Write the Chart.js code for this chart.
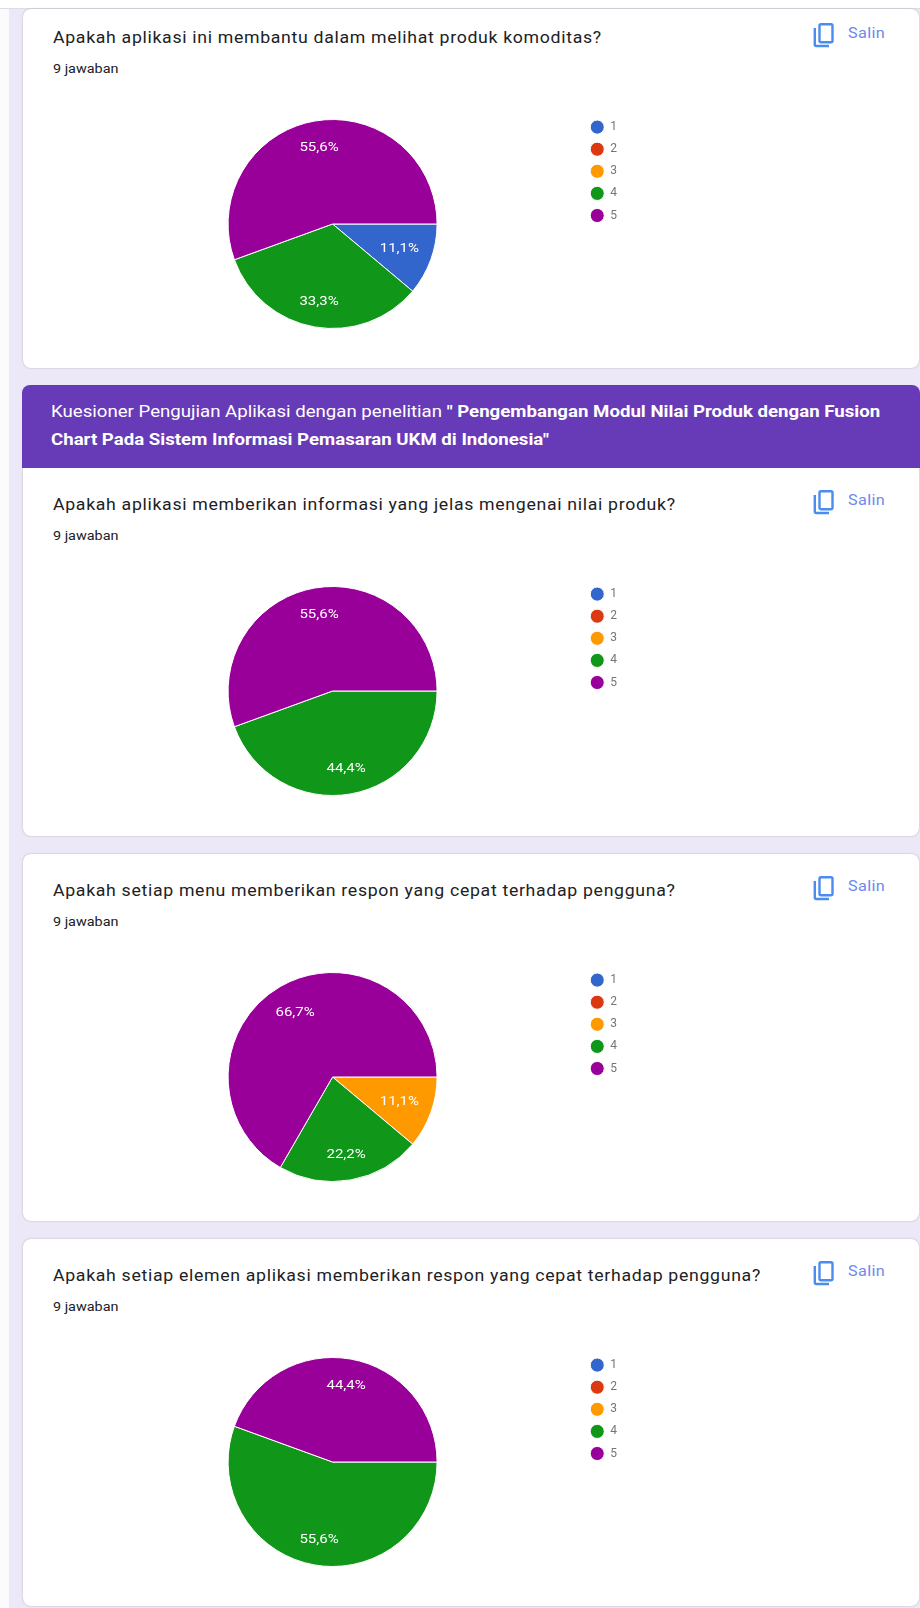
<!DOCTYPE html>
<html><head><meta charset="utf-8">
<script src="https://cdn.jsdelivr.net/npm/chart.js@4/dist/chart.umd.min.js"></script>
<style>
html,body{margin:0;padding:0;background:#fff;}
#page{position:relative;width:920px;height:1608px;overflow:hidden;background:#ede8f7;font-family:Roboto,sans-serif;filter:blur(0.6px);}
.strip{position:absolute;left:0;top:0;width:9px;height:1608px;background:#fbfafd;}
.topstrip{position:absolute;left:0;top:0;width:920px;height:8px;background:#fff;border-bottom:1px solid #dcdce4;}
.card{position:absolute;left:23px;width:896px;background:#fff;border-radius:8px;box-shadow:0 0 2px rgba(60,60,80,.35);}
.head{position:absolute;left:22px;width:898px;top:385px;height:83px;background:#673ab7;border-radius:8px 8px 0 0;color:#fff;}
.head div{position:absolute;left:29px;top:13px;font-size:16.4px;line-height:27.5px;white-space:nowrap;transform:scaleX(1.137);transform-origin:left top;}
.q{position:absolute;left:53px;font-size:16px;letter-spacing:.62px;color:#202124;white-space:nowrap;line-height:20px;transform:scaleX(1.105);transform-origin:left top;}
.n{position:absolute;left:53px;font-size:12px;color:#202124;white-space:nowrap;line-height:14px;transform:scaleX(1.2);transform-origin:left top;}
.s{position:absolute;left:848px;font-size:14px;letter-spacing:.3px;color:#6f88ee;white-space:nowrap;line-height:16px;transform:scaleX(1.16);transform-origin:left top;}
.i{position:absolute;left:812px;width:24px;height:26px;}
canvas{position:absolute;}
.cv{position:absolute;left:85px;width:542px;height:216px;}
</style></head><body>
<div id="page">
<div class="strip"></div><div class="topstrip"></div>
<div class="card" style="top:9px;height:359px"></div>
<div class="card" style="top:400px;height:436px"></div>
<div class="card" style="top:854px;height:367px"></div>
<div class="card" style="top:1239px;height:367px"></div>
<div class="head"><div>Kuesioner Pengujian Aplikasi dengan penelitian <b>" Pengembangan Modul Nilai Produk dengan Fusion<br>Chart Pada Sistem Informasi Pemasaran UKM di Indonesia"</b></div></div>
</div>
<script>
const categories = ["1","2","3","4","5"];
const colors = ["#3366cc","#dc3912","#ff9900","#109618","#990099"];
const questions = [
  "Apakah aplikasi ini membantu dalam melihat produk komoditas?",
  "Apakah aplikasi memberikan informasi yang jelas mengenai nilai produk?",
  "Apakah setiap menu memberikan respon yang cepat terhadap pengguna?",
  "Apakah setiap elemen aplikasi memberikan respon yang cepat terhadap pengguna?"
];
const answerLabel = "9 jawaban";
const copyLabel = "Salin";
const q1Values = [1,0,0,3,5];
const q2Values = [0,0,0,4,5];
const q3Values = [0,0,1,2,6];
const q4Values = [0,0,0,5,4];
const allValues = [q1Values,q2Values,q3Values,q4Values];
const offsets = [0,467,853,1238];

const sliceLabels = {
  id:'sliceLabels',
  afterLayout(chart){ chart.legend.top -= 8; },
  afterDatasetsDraw(chart){
    const ctx = chart.ctx, meta = chart.getDatasetMeta(0), data = chart.data.datasets[0].data;
    const total = data.reduce((a,b)=>a+b,0);
    ctx.font = '12.5px Roboto, sans-serif';
    ctx.fillStyle = '#fff';
    ctx.textAlign = 'center';
    ctx.textBaseline = 'middle';
    meta.data.forEach((arc,i)=>{
      if(!data[i]) return;
      const p = arc.getProps(['x','y','startAngle','endAngle','outerRadius'],true);
      const mid = (p.startAngle+p.endAngle)/2;
      const f = 0.76-0.085*Math.abs(Math.cos(mid));
      const txt = (data[i]/total*100).toFixed(1).replace('.',',')+'%';
      ctx.save();
      ctx.translate(p.x+Math.cos(mid)*p.outerRadius*f,p.y+Math.sin(mid)*p.outerRadius*f+1);
      ctx.scale(1.2,1);
      ctx.fillText(txt,0,0);
      ctx.restore();
    });
  }
};
const page = document.getElementById('page');
const iconSvg = '<svg viewBox="0 0 24 26" width="24" height="26" fill="none" stroke="#4a8cf0" stroke-width="2.4"><rect x="7.5" y="2.2" width="13" height="18" rx="1.5"/><path d="M2.8 6v16.5a1.5 1.5 0 0 0 1.5 1.5H17"/></svg>';
questions.forEach((q,i)=>{
  const o = offsets[i];
  const add=(cls,top,txt)=>{const d=document.createElement('div');d.className=cls;d.style.top=(top+o)+'px';d.textContent=txt;page.appendChild(d);};
  add('q',28,q); add('n',62,answerLabel); add('s',25,copyLabel);
  const ic=document.createElement('div');ic.className='i';ic.style.top=(22+o)+'px';ic.innerHTML=iconSvg;page.appendChild(ic);
  const w=document.createElement('div');w.className='cv';w.style.top=(116+o)+'px';
  const c=document.createElement('canvas');w.appendChild(c);page.appendChild(w);
  new Chart(c,{
    type:'pie',
    data:{labels:categories,datasets:[{data:allValues[i],backgroundColor:colors,borderColor:'#fff',borderWidth:1}]},
    options:{
      responsive:true,maintainAspectRatio:false,animation:false,rotation:90,
      layout:{padding:{top:3,bottom:3}},
      plugins:{tooltip:{enabled:false},
        legend:{position:'right',align:'start',onClick:null,
          labels:{usePointStyle:true,pointStyle:'circle',boxWidth:10,boxHeight:10,pointStyleWidth:14,padding:10.1,
            color:'#757575',font:{family:'Roboto, sans-serif',size:12}}}}
    },
    plugins:[sliceLabels]
  });
});
</script>
</body></html>
